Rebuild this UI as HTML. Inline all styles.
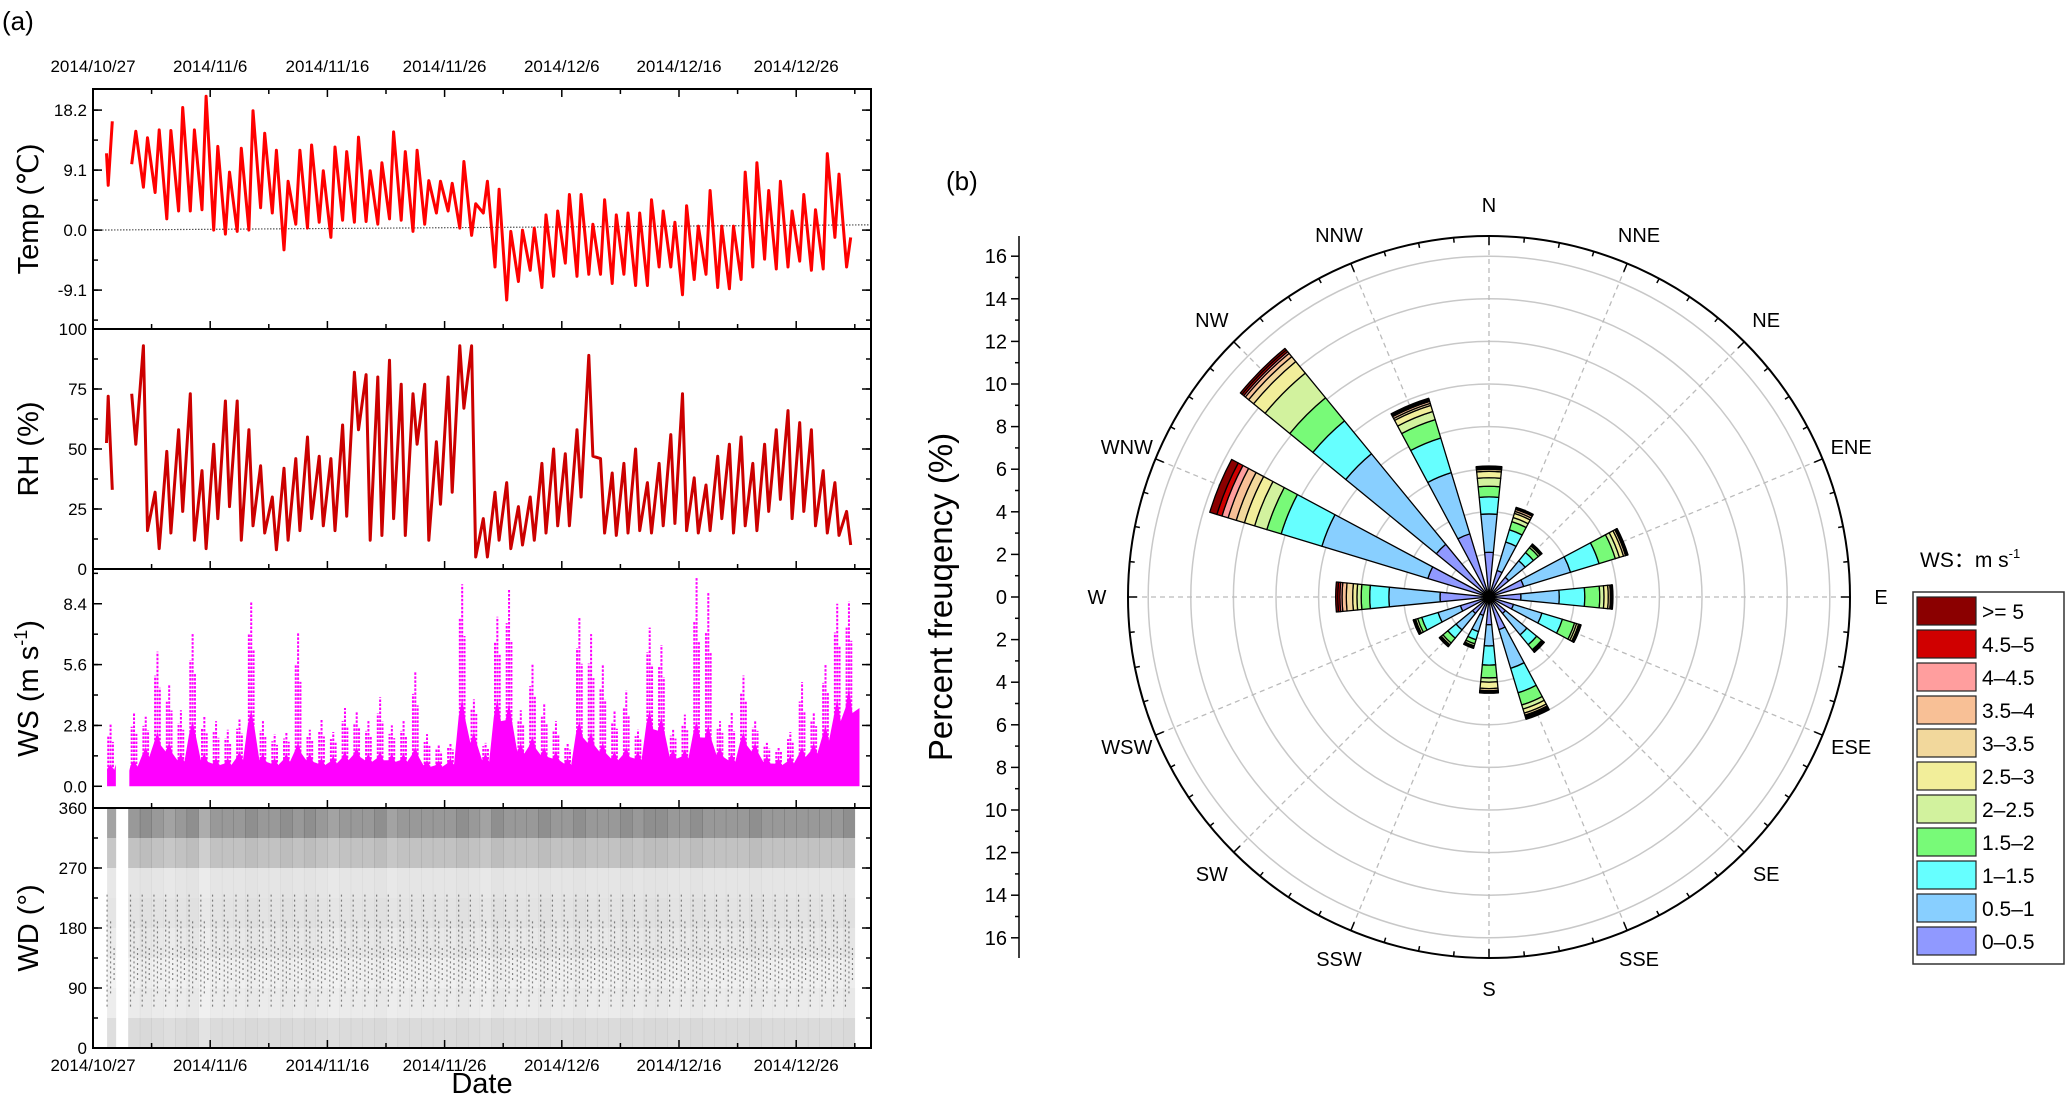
<!DOCTYPE html>
<html><head><meta charset="utf-8"><style>
body{margin:0;background:#fff;}
svg{display:block;font-family:"Liberation Sans",Arial,sans-serif;}
</style></head><body>
<svg id="fig" width="2067" height="1097" viewBox="0 0 2067 1097" xmlns="http://www.w3.org/2000/svg">
<text x="2" y="30" font-size="26">(a)</text>
<text x="946" y="190" font-size="26">(b)</text>
<g id="left"></g>
<g id="rose"></g>
</svg>
<script>
// ---------- time-series data (day index d from 2014/10/27) ----------
const dateLabels = ["2014/10/27","2014/11/6","2014/11/16","2014/11/26","2014/12/6","2014/12/16","2014/12/26"];
const tempMax = [16.5,null,15,14,15.2,15.1,18.6,15.2,20.3,12.7,8.8,12.4,18.1,14.7,12.1,7.4,12.1,12.9,9.0,12.6,11.9,14.1,9.0,10.2,14.9,11.9,12.1,7.5,7.4,7.1,10.4,4.0,7.4,6.2,-0.2,0,0.3,2.3,2.9,5.4,5.4,0.9,4.6,2.3,2.6,2.6,4.6,2.9,1.2,3.7,0.6,6.0,0.6,0.6,8.8,10.2,6.0,7.4,2.9,5.4,3.1,11.6,8.5,-1.1];
const tempMin = [6.8,null,10,6.5,5.7,1.7,2.9,2.9,3.1,0,-0.6,-0.2,0,3.4,2.6,-3,0.9,0.3,1.2,-1.1,1.5,1.2,1.3,0.9,1.7,1.5,-0.2,0.9,2.6,2.9,0.3,-0.8,2.6,-5.6,-10.6,-7.8,-6.1,-8.7,-7,-5,-7,-6.7,-6.7,-8.1,-6.7,-8.4,-8.4,-5.6,-5.6,-9.8,-7.5,-6.7,-8.7,-8.9,-7.5,-5.6,-4.4,-5.9,-5.6,-4.7,-6.1,-5.9,-1.1,-5.6];
const rhMax = [72,null,73,93,32,49,58,73,41,52,70,70,58,43,30,42,46,55,47,46,60,82,81,80,87,77,73,77,53,80,93,93,21,32,36,26,30,44,50,48,58,89,46,40,44,50,36,44,56,73,38,35,47,52,55,44,52,58,66,61,58,41,36,24];
const rhMin = [33,null,52,16,8.5,15,24,12,8.5,21,26,12,18,15,8,12,16,21,18,16,22,58,12,14,21,14,52,12,27,32,67,5,5,12,8.5,10,12,15,18,18,30,47,15,14,15,16,15,18,19,16,15,16,21,15,18,16,24,29,21,24,18,15,14,10];
const wsDense = [1.0,null,1.2,1.8,2.5,2.0,1.5,3.0,1.5,1.3,1.3,1.6,3.5,1.5,1.3,1.5,2.0,1.5,1.3,1.4,1.6,1.8,1.5,1.6,1.5,1.5,1.8,1.2,1.2,1.3,4.0,2.5,1.5,4.0,3.8,2.0,2.3,1.8,1.6,1.3,3.0,2.5,2.0,1.6,1.8,1.6,3.5,3.2,1.7,1.7,3.0,2.8,1.8,1.5,2.5,2.0,1.4,1.3,1.4,1.8,2.0,2.8,4.0,4.5];
const wsPeak = [2.9,null,3.4,3.2,6.2,4.7,3.5,7.0,3.2,3.0,2.6,3.1,8.5,3.0,2.4,2.5,7.1,2.6,3.1,2.5,3.6,3.4,3.0,4.1,2.8,3.0,5.3,2.4,1.9,2.0,9.3,4.0,2.0,7.8,9.1,3.5,5.6,3.8,3.0,2.0,7.8,7.0,5.6,3.5,4.4,2.6,7.3,6.5,2.6,3.3,9.6,8.9,3.0,3.4,5.1,3.0,2.0,1.8,2.5,4.8,3.4,5.6,8.4,8.5];
const wdBand = [0.14,0.08,0.06,0.09,0.11,0.10,0.24,0.40];
const wdDay = [0.9,null,1.0,1.1,1.0,0.9,1.0,1.1,0.8,1.0,1.0,1.0,1.1,1.0,1.0,1.1,1.0,1.1,1.0,0.9,1.0,1.0,1.0,1.1,0.9,1.0,1.0,1.0,1.0,1.0,1.1,1.0,0.9,1.1,1.0,1.0,1.0,1.1,1.0,1.0,1.1,1.0,1.0,1.0,1.1,1.0,1.1,1.1,1.0,1.0,1.1,1.0,1.0,1.0,1.0,1.1,1.0,1.0,1.0,1.0,1.0,1.0,1.0,1.1];
const tempTicks = [18.2,9.1,0,-9.1];
const rhTicks = [0,25,50,75,100];
const wsTicks = [0,2.8,5.6,8.4];
const wdTicks = [0,90,180,270,360];

// ---------- wind rose data ----------
const dirs = ["N","NNE","NE","ENE","E","ESE","SE","SSE","S","SSW","SW","WSW","W","WNW","NW","NNW"];
const speedBins = ["0–0.5","0.5–1","1–1.5","1.5–2","2–2.5","2.5–3","3–3.5","3.5–4","4–4.5","4.5–5",">= 5"];
const binColors = ["#9099FF","#88CFFF","#66FFFF","#78FA78","#D2F29E","#F2EE9A","#F2D89C","#F8C096","#FF9E9E","#D00000","#8B0000"];
const roseCum = [
 [2.1,3.9,4.7,5.2,5.6,5.9,6.0,6.05,6.1,6.12,6.15],
 [1.3,2.7,3.3,3.7,3.9,4.1,4.2,4.3,4.35,4.38,4.4],
 [1.2,2.2,2.7,3.0,3.1,3.15,3.18,3.2,3.2,3.2,3.22],
 [1.7,4.0,5.4,6.2,6.4,6.6,6.7,6.75,6.78,6.8,6.82],
 [1.5,3.3,4.5,5.2,5.4,5.6,5.7,5.75,5.78,5.8,5.82],
 [1.2,2.6,3.6,4.2,4.3,4.4,4.45,4.48,4.5,4.5,4.52],
 [1.0,2.3,2.9,3.2,3.25,3.3,3.32,3.33,3.34,3.35,3.36],
 [1.6,3.5,4.7,5.3,5.5,5.7,5.8,5.85,5.9,5.95,6.0],
 [1.3,2.3,3.2,3.8,4.0,4.3,4.4,4.45,4.5,4.5,4.52],
 [0.9,1.7,2.1,2.3,2.4,2.45,2.48,2.5,2.5,2.5,2.52],
 [1.0,2.0,2.5,2.8,2.9,2.95,2.98,3.0,3.0,3.0,3.02],
 [1.4,2.5,3.3,3.5,3.6,3.65,3.68,3.7,3.7,3.7,3.72],
 [2.3,4.7,5.6,6.0,6.2,6.4,6.7,6.9,7.0,7.1,7.2],
 [3.0,8.2,10.2,10.9,11.5,12.0,12.4,12.8,13.1,13.35,13.7],
 [3.2,8.7,10.7,12.1,13.6,14.3,14.6,14.8,14.9,15.0,15.1],
 [3.1,6.1,7.8,8.7,9.1,9.4,9.5,9.6,9.65,9.7,9.75]
];
const radialTicks = [0,2,4,6,8,10,12,14,16];

const NS = "http://www.w3.org/2000/svg";
function mk(parent, tag, attrs, text){
  const e = document.createElementNS(NS, tag);
  for (const k in attrs) e.setAttribute(k, attrs[k]);
  if (text !== undefined) e.textContent = text;
  parent.appendChild(e);
  return e;
}

const L = document.getElementById('left');
const X0 = 93, X1 = 871, PXDAY = 11.72;
const xDay = d => X0 + d * PXDAY;
const panels = [
  {name:'temp', top:89, bot:329, min:-15, max:21.4},
  {name:'rh', top:329, bot:569, min:0, max:100},
  {name:'ws', top:569, bot:808, min:-1, max:10},
  {name:'wd', top:808, bot:1048, min:0, max:360}
];
const yOf = (p, v) => p.bot - (v - p.min) / (p.max - p.min) * (p.bot - p.top);
const [PT, PR, PW, PD] = panels;

const defs = mk(L,'defs',{});
panels.forEach(p=>{
  const c = mk(defs,'clipPath',{id:'clip-'+p.name});
  mk(c,'rect',{x:X0,y:p.top,width:X1-X0,height:p.bot-p.top});
});

// WD
const gWD = mk(L,'g',{'clip-path':'url(#clip-wd)'});


wdDay.forEach((a,i)=>{
  if (a===null) return;
  const d = i+1;
  wdBand.forEach((b,j)=>{
    const r = mk(gWD,'rect',{x:xDay(i===0?1.2:d), y:yOf(PD,(j+1)*45), width:(i===0?0.75:1)*PXDAY+0.3, height:yOf(PD,j*45)-yOf(PD,(j+1)*45), fill:'#000', 'fill-opacity':Math.min(0.9,a*b).toFixed(2)});
    
    
  });
  for (let k=0;k<3;k++){
    const xs = xDay(d + 0.2 + k*0.3);
    const l = mk(gWD,'line',{x1:xs,x2:xs,y1:yOf(PD,230-k*40),y2:yOf(PD,60+k*20),stroke:'#000','stroke-width':1.2,'stroke-opacity':0.45,'stroke-dasharray':'2 3'});
    
    
  }
});

// WS
const gWS = mk(L,'g',{'clip-path':'url(#clip-ws)'});


let wsPath = '';
let started = false;
wsDense.forEach((v,i)=>{
  const d=i+1;
  if (v===null){ if(started){wsPath += `L${xDay(d-0.05)},${yOf(PW,0)}`;} started=false; return; }
  const ds = (i===0)?1.2:(i===2?3.1:d);
  if(!started){ wsPath += `M${xDay(ds)},${yOf(PW,0)}L${xDay(ds)},${yOf(PW,v*0.6)}`; started=true; }
  wsPath += `L${xDay(d+0.2)},${yOf(PW,v*0.8)}L${xDay(d+0.5)},${yOf(PW,v)}L${xDay(d+0.8)},${yOf(PW,v*0.75)}`;
  if(i===0){ wsPath += `L${xDay(1.95)},${yOf(PW,v)}L${xDay(1.95)},${yOf(PW,0)}`; started=false; }
});
if(started) wsPath += `L${xDay(65.4)},${yOf(PW,wsDense[63]*0.8)}L${xDay(65.4)},${yOf(PW,0)}Z`;
const wsArea = mk(gWS,'path',{d:wsPath,fill:'#FF00FF'});


wsPeak.forEach((pk,i)=>{
  if (pk===null) return;
  const d=i+1, dn=wsDense[i];
  [[0.5,1],[0.3,0.7],[0.7,0.55]].forEach(([f,s])=>{
    const xs = xDay(d+f);
    const l = mk(gWS,'line',{x1:xs,x2:xs,y1:yOf(PW,dn*0.7),y2:yOf(PW,dn+(pk-dn)*s),stroke:'#FF00FF','stroke-width':2,'stroke-dasharray':'2.5 1.5'});
    
    
  });
});

function seriesPath(p, mx, mn, maxFirst){
  let s=''; let pen=false;
  mx.forEach((v,i)=>{
    const d=i+1;
    if (v===null){pen=false;return;}
    const pts = maxFirst ? [[d+0.3,v],[d+0.65,mn[i]]] : [[d+0.3,mn[i]],[d+0.65,v]];
    if(i===0) pts.unshift([1.15, (v+mn[i])/2]);
    pts.forEach(([dd,val])=>{ s += (pen?'L':'M') + xDay(dd).toFixed(1)+','+yOf(p,val).toFixed(1); pen=true; });
  });
  return s;
}
const rhLine = mk(L,'path',{d:seriesPath(PR,rhMax,rhMin,true),fill:'none',stroke:'#CC0000','stroke-width':3,'stroke-linejoin':'round','clip-path':'url(#clip-rh)'});



const zl = mk(L,'line',{x1:X0,x2:X1,y1:yOf(PT,0),y2:yOf(PT,0.8),stroke:'#555','stroke-width':1.2,'stroke-dasharray':'1.5 1.5'});


const tLine = mk(L,'path',{d:seriesPath(PT,tempMax,tempMin,false),fill:'none',stroke:'#FF0000','stroke-width':3,'stroke-linejoin':'round','clip-path':'url(#clip-temp)'});



panels.forEach((p,pi)=>{
  const fr = mk(L,'rect',{x:X0,y:p.top,width:X1-X0,height:p.bot-p.top,fill:'none',stroke:'#000','stroke-width':2});
  
  
  for (let d=0; d<=66; d+=5){
    const len = d%10===0?8:5, xs=xDay(d);
    mk(L,'line',{x1:xs,x2:xs,y1:p.bot,y2:p.bot-len,stroke:'#000','stroke-width':1.5});
    if(pi===0) mk(L,'line',{x1:xs,x2:xs,y1:p.top,y2:p.top+len,stroke:'#000','stroke-width':1.5});
  }
});
function yTicks(p, ticks, minorStep, fmt){
  const minorSet = [];
  for (let v=ticks[0]-minorStep*10; v<=p.max; v+=minorStep){ if(v>=p.min && v<=p.max) minorSet.push(v); }
  minorSet.forEach(v=>{
    const y=yOf(p,v);
    mk(L,'line',{x1:X0,x2:X0+5,y1:y,y2:y,stroke:'#000','stroke-width':1.5});
    mk(L,'line',{x1:X1,x2:X1-5,y1:y,y2:y,stroke:'#000','stroke-width':1.5});
  });
  ticks.forEach(v=>{
    const y=yOf(p,v);
    mk(L,'line',{x1:X0,x2:X0+9,y1:y,y2:y,stroke:'#000','stroke-width':1.5});
    mk(L,'line',{x1:X1,x2:X1-9,y1:y,y2:y,stroke:'#000','stroke-width':1.5});
    const t = mk(L,'text',{x:X0-6,y:y+6,'font-size':17,'text-anchor':'end'},fmt(v));
    
    
  });
}
yTicks(PT,tempTicks,4.55,v=>v.toFixed(1));
yTicks(PR,rhTicks,12.5,v=>String(v));
yTicks(PW,wsTicks,1.4,v=>v.toFixed(1));
yTicks(PD,wdTicks,45,v=>String(v));

dateLabels.forEach((lab,i)=>{
  const t1 = mk(L,'text',{x:xDay(i*10),y:72,'font-size':17,'text-anchor':'middle'},lab);
  
  
  const t2 = mk(L,'text',{x:xDay(i*10),y:1071,'font-size':17,'text-anchor':'middle'},lab);
  
  
});
const dt = mk(L,'text',{x:482,y:1093,'font-size':29,'text-anchor':'middle'},'Date');



const titles = [['Temp (℃)',PT],['RH (%)',PR],['WS (m s',PW],['WD (°)',PD]];
titles.forEach(([s,p],i)=>{
  const cy=(p.top+p.bot)/2;
  const t = mk(L,'text',{x:0,y:0,'font-size':29,'text-anchor':'middle',transform:`translate(38,${cy}) rotate(-90)`});
  
  
  if(i===2){
    mk(t,'tspan',{},'WS (m s');
    mk(t,'tspan',{'font-size':18,dy:-11},'-1');
    mk(t,'tspan',{dy:11},')');
  } else t.textContent = s;
});

// ---------- wind rose ----------
const R = document.getElementById('rose');
const CX=1489, CY=597, PXPCT=21.3, ROUT=361;
const rr = v => v*PXPCT;
for (let k=2;k<=16;k+=2){
  const c = mk(R,'circle',{cx:CX,cy:CY,r:rr(k),fill:'none',stroke:'#C8C8C8','stroke-width':1.5});
  
  
}
dirs.forEach((d,i)=>{
  const a = i*22.5*Math.PI/180;
  const l = mk(R,'line',{x1:CX,y1:CY,x2:CX+ROUT*Math.sin(a),y2:CY-ROUT*Math.cos(a),stroke:'#BBB','stroke-width':1.3,'stroke-dasharray':'5 4'});
  
  
});
roseCum.forEach((cum,i)=>{
  const g = mk(R,'g',{});
  
  
  const c0 = (i*22.5)*Math.PI/180, hw = 5.625*Math.PI/180;
  let prev = 0;
  cum.forEach((v,j)=>{
    const r0=rr(prev), r1=rr(v), a1=c0-hw, a2=c0+hw;
    const P=(r,a)=>`${(CX+r*Math.sin(a)).toFixed(2)},${(CY-r*Math.cos(a)).toFixed(2)}`;
    const dPath = `M${P(r0,a1)}L${P(r1,a1)}A${r1},${r1} 0 0 1 ${P(r1,a2)}L${P(r0,a2)}A${r0},${r0} 0 0 0 ${P(r0,a1)}Z`;
    const s = mk(g,'path',{d:dPath,fill:binColors[j],stroke:'#000','stroke-width':1.3,'stroke-linejoin':'round'});
    
    
    prev=v;
  });
});
mk(R,'circle',{cx:CX,cy:CY,r:6,fill:'#000'});
const oc = mk(R,'circle',{cx:CX,cy:CY,r:ROUT,fill:'none',stroke:'#000','stroke-width':2});


for (let k=0;k<64;k++){
  const a=k*5.625*Math.PI/180, len = k%4===0?9:5;
  mk(R,'line',{x1:CX+ROUT*Math.sin(a),y1:CY-ROUT*Math.cos(a),x2:CX+(ROUT-len)*Math.sin(a),y2:CY-(ROUT-len)*Math.cos(a),stroke:'#000','stroke-width':1.5});
}
dirs.forEach((d,i)=>{
  const a = i*22.5*Math.PI/180, rl=392;
  const t = mk(R,'text',{x:CX+rl*Math.sin(a),y:CY-rl*Math.cos(a)+7,'font-size':20,'text-anchor':'middle'},d);
  
  
});
const AX=1019;
mk(R,'line',{x1:AX,x2:AX,y1:CY-ROUT,y2:CY+ROUT,stroke:'#000','stroke-width':1.5});
for (let k=-16;k<=16;k++){
  const y=CY-k*PXPCT, len = k%2===0?8:4;
  mk(R,'line',{x1:AX,x2:AX-len,y1:y,y2:y,stroke:'#000','stroke-width':1.5});
}
radialTicks.forEach(v=>{
  [1,-1].forEach(s=>{
    if(v===0 && s===-1) return;
    const t = mk(R,'text',{x:AX-12,y:CY-s*rr(v)+7,'font-size':20,'text-anchor':'end'},String(v));
    
    
  });
});
const rt = mk(R,'text',{x:0,y:0,'font-size':33,'text-anchor':'middle',transform:`translate(952,${CY}) rotate(-90)`},'Percent freuqency (%)');



const LG = mk(R,'g',{});


const lt = mk(LG,'text',{x:1920,y:567,'font-size':21});


mk(lt,'tspan',{},'WS：m s');
mk(lt,'tspan',{'font-size':13,dy:-9},'-1');
mk(LG,'rect',{x:1913,y:592,width:151,height:372,fill:'#fff',stroke:'#333','stroke-width':1.5});
for (let j=0;j<11;j++){
  const bi = 10-j, y = 597 + j*33;
  const sw = mk(LG,'rect',{x:1917,y:y,width:59,height:28,fill:binColors[bi],stroke:'#222','stroke-width':1.2});
  
  
  const tx = mk(LG,'text',{x:1982,y:y+22,'font-size':21},speedBins[bi]);
  
  
}
</script>
</body></html>
